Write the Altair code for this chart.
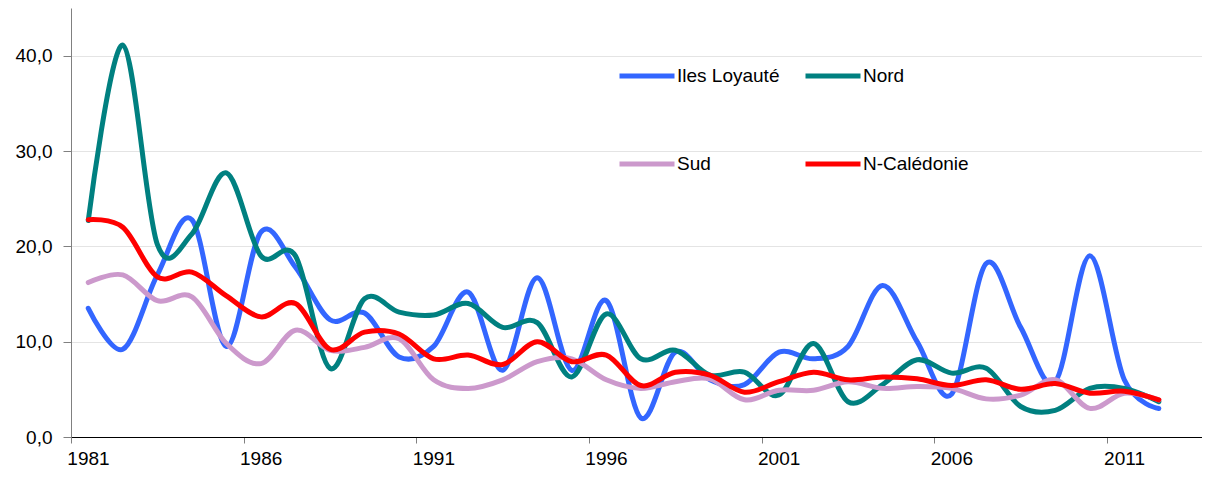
import altair as alt
import pandas as pd

years = list(range(1981, 2013))
iles = [13.5, 9.2, 17.0, 22.8, 9.5, 21.5, 17.8, 12.3, 13.0, 8.4, 9.5, 15.2, 7.0, 16.7, 7.0, 14.3,
        2.0, 8.9, 6.0, 5.5, 8.9, 8.2, 9.5, 15.9, 10.0, 4.5, 18.2, 11.5, 5.8, 19.0, 6.0, 3.0]
nord = [22.7, 41.1, 20.2, 21.3, 27.7, 19.0, 19.0, 7.2, 14.5, 13.1, 12.8, 14.0, 11.5, 12.0, 6.3, 12.9,
        8.2, 9.1, 6.5, 6.8, 4.4, 9.8, 3.7, 5.5, 8.1, 6.7, 7.2, 3.2, 2.8, 5.1, 5.1, 3.7]
sud = [16.2, 17.0, 14.3, 14.7, 9.8, 7.7, 11.2, 9.1, 9.4, 10.3, 6.0, 5.1, 6.0, 7.9, 8.2, 6.0,
       5.1, 5.8, 6.1, 3.9, 4.9, 4.9, 5.8, 5.1, 5.3, 5.1, 4.0, 4.4, 6.0, 3.0, 4.6, 3.9]
ncal = [22.8, 22.0, 16.8, 17.3, 14.8, 12.6, 14.0, 9.2, 11.0, 10.8, 8.2, 8.6, 7.6, 10.0, 7.9, 8.6,
        5.4, 6.8, 6.5, 4.7, 5.8, 6.8, 6.0, 6.3, 6.1, 5.4, 6.0, 5.0, 5.6, 4.6, 4.8, 3.9]

series_names = ["Iles Loyauté", "Nord", "Sud", "N-Calédonie"]
series_colors = ["#3366FF", "#008080", "#CC99CC", "#FF0000"]
x_tick_values = [1980.5, 1985.5, 1990.5, 1995.5, 2000.5, 2005.5, 2010.5]
y_tick_values = [0, 10, 20, 30, 40]

rows = []
for name, vals in zip(series_names, [iles, nord, sud, ncal]):
    for yr, v in zip(years, vals):
        rows.append({"Année": yr, "Valeur": v, "Série": name})
df = pd.DataFrame(rows)

FONT = "Liberation Sans"

x_enc = alt.X(
    "Année:Q",
    scale=alt.Scale(domain=[1980.5, 2013.25], nice=False, zero=False),
    axis=alt.Axis(
        title=None, values=x_tick_values, grid=False, tickSize=6, tickColor="#808080",
        domainColor="#000000", labelExpr="format(datum.value + 0.5, 'd')",
        labelOffset=17, labelPadding=6, labelFontSize=19, labelFont=FONT, labelColor="#000000",
        labelFlush=False, labelOverlap=False,
    ),
)
y_enc = alt.Y(
    "Valeur:Q",
    scale=alt.Scale(domain=[0, 45], nice=False),
    axis=alt.Axis(
        title=None, values=y_tick_values, grid=True, gridColor="#e4e4e4", tickSize=8,
        tickColor="#808080", domainColor="#808080",
        labelExpr="replace(format(datum.value, '.1f'), '.', ',')",
        labelPadding=11, labelFontSize=19, labelFont=FONT, labelColor="#000000",
    ),
)
color_enc = alt.Color(
    "Série:N",
    scale=alt.Scale(domain=series_names, range=series_colors),
    legend=alt.Legend(
        title=None, orient="none", legendX=546, legendY=38, columns=2, direction="horizontal",
        symbolType="stroke", symbolSize=3025, symbolStrokeWidth=5,
        labelFontSize=19, labelFont=FONT, labelColor="#000000", labelOffset=0,
        columnPadding=15, rowPadding=48, padding=0,
    ),
)

layers = []
for name in series_names:
    layers.append(
        alt.Chart(df)
        .transform_filter(alt.datum["Série"] == name)
        .mark_line(interpolate="cardinal", tension=0, strokeWidth=5, strokeCap="round")
        .encode(x=x_enc, y=y_enc, color=color_enc)
    )

chart = (
    alt.layer(*layers)
    .properties(
        width=1131, height=429,
        autosize=alt.AutoSizeParams(type="none"),
        padding={"left": 63, "right": 0, "top": 0, "bottom": 32},
    )
    .configure_view(stroke=None)
)

chart.save("out.html", embed_options={"renderer": "svg", "actions": False})
